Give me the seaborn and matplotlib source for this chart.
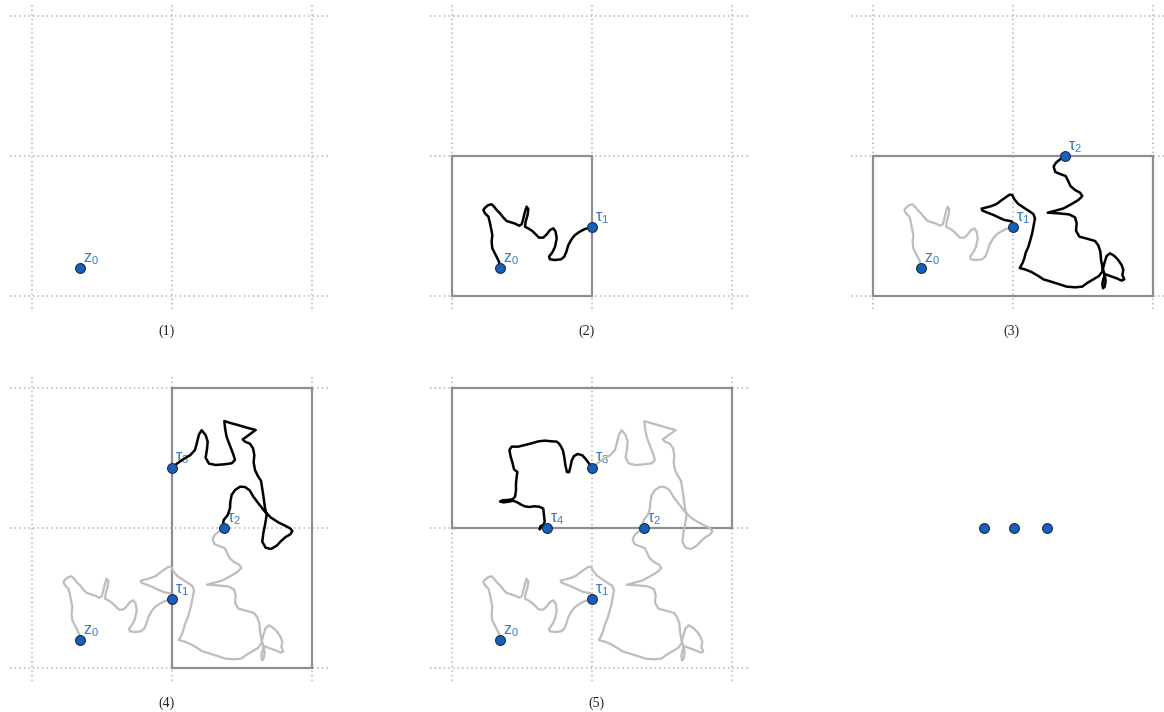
import matplotlib
matplotlib.use("Agg")
import matplotlib.pyplot as plt
from matplotlib.patches import Rectangle
import seaborn as sns

sns.set_theme(style="white")
plt.rcParams["font.family"] = ["Liberation Sans", "DejaVu Sans"]
plt.rcParams["mathtext.fontset"] = "custom"
plt.rcParams["mathtext.rm"] = "Liberation Sans"
plt.rcParams["mathtext.default"] = "regular"

# stopping points, in grid units
z0 = (0.34, 0.20)
tau1 = (1.00, 0.49)
tau2 = (1.37, 1.00)
tau3 = (1.00, 1.43)
tau4 = (0.675, 1.00)
point_labels = ["z_0", "τ_1", "τ_2", "τ_3", "τ_4"]

# path z0 -> tau1
path_a_x = [0.34, 0.336, 0.312, 0.288, 0.283, 0.288, 0.279, 0.269, 0.260, 0.236,
            0.224, 0.236, 0.260, 0.283, 0.302, 0.321, 0.343, 0.367, 0.390, 0.421,
            0.450, 0.479, 0.498, 0.510, 0.521, 0.533, 0.545, 0.540, 0.526, 0.521,
            0.545, 0.574, 0.598, 0.621, 0.652, 0.676, 0.700, 0.724, 0.740, 0.748,
            0.736, 0.717, 0.693, 0.700, 0.736, 0.779, 0.802, 0.817, 0.831, 0.855,
            0.879, 0.914, 0.950, 1.00]
path_a_y = [0.20, 0.245, 0.293, 0.340, 0.388, 0.436, 0.483, 0.531, 0.567, 0.590,
            0.614, 0.631, 0.650, 0.655, 0.636, 0.612, 0.590, 0.560, 0.536, 0.526,
            0.517, 0.502, 0.512, 0.555, 0.602, 0.638, 0.621, 0.579, 0.531, 0.495,
            0.483, 0.464, 0.440, 0.417, 0.417, 0.440, 0.471, 0.483, 0.460, 0.412,
            0.352, 0.312, 0.281, 0.262, 0.257, 0.262, 0.281, 0.317, 0.364, 0.407,
            0.436, 0.460, 0.479, 0.49]

# path tau1 -> tau2
path_b_x = [1.00, 0.998, 0.990, 0.967, 0.938, 0.900, 0.860, 0.819, 0.781, 0.776,
            0.812, 0.848, 0.883, 0.914, 0.948, 0.976, 0.995, 1.010, 1.038, 1.074,
            1.110, 1.145, 1.157, 1.148, 1.138, 1.124, 1.110, 1.091, 1.081, 1.067,
            1.048, 1.086, 1.133, 1.181, 1.217, 1.264, 1.324, 1.383, 1.443, 1.495,
            1.533, 1.574, 1.614, 1.638, 1.652, 1.669, 1.693, 1.724, 1.752, 1.776,
            1.788, 1.781, 1.795, 1.776, 1.741, 1.693, 1.657, 1.645, 1.638, 1.643,
            1.655, 1.662, 1.655, 1.640, 1.629, 1.624, 1.610, 1.586, 1.526, 1.474,
            1.450, 1.455, 1.443, 1.400, 1.329, 1.248, 1.305, 1.362, 1.419, 1.467,
            1.495, 1.479, 1.443, 1.410, 1.393, 1.376, 1.338, 1.302, 1.290, 1.307,
            1.336, 1.37]
path_b_y = [0.49, 0.514, 0.533, 0.538, 0.543, 0.560, 0.579, 0.595, 0.610, 0.624,
            0.633, 0.643, 0.657, 0.681, 0.705, 0.724, 0.721, 0.690, 0.657, 0.633,
            0.610, 0.586, 0.555, 0.507, 0.452, 0.400, 0.352, 0.310, 0.269, 0.233,
            0.200, 0.190, 0.171, 0.143, 0.119, 0.105, 0.086, 0.067, 0.062, 0.067,
            0.095, 0.119, 0.143, 0.174, 0.233, 0.286, 0.305, 0.286, 0.257, 0.221,
            0.186, 0.150, 0.119, 0.110, 0.126, 0.143, 0.157, 0.119, 0.086, 0.055,
            0.067, 0.110, 0.152, 0.198, 0.257, 0.317, 0.360, 0.393, 0.410, 0.424,
            0.467, 0.519, 0.562, 0.583, 0.590, 0.595, 0.610, 0.626, 0.657, 0.686,
            0.714, 0.738, 0.757, 0.786, 0.824, 0.857, 0.871, 0.886, 0.924, 0.952,
            0.976, 1.00]

# path tau2 -> tau3
path_c_x = [1.37, 1.364, 1.369, 1.398, 1.414, 1.417, 1.426, 1.450, 1.486, 1.521,
            1.555, 1.581, 1.617, 1.660, 1.707, 1.760, 1.807, 1.843, 1.860, 1.845,
            1.812, 1.779, 1.748, 1.707, 1.669, 1.645, 1.652, 1.664, 1.676, 1.664,
            1.655, 1.645, 1.636, 1.612, 1.593, 1.583, 1.588, 1.579, 1.557, 1.521,
            1.505, 1.536, 1.574, 1.598, 1.533, 1.469, 1.417, 1.374, 1.379, 1.390,
            1.414, 1.438, 1.450, 1.426, 1.374, 1.312, 1.264, 1.240, 1.250, 1.255,
            1.240, 1.212, 1.193, 1.179, 1.164, 1.131, 1.083, 1.036, 1.00]
path_c_y = [1.00, 1.021, 1.057, 1.093, 1.140, 1.188, 1.236, 1.271, 1.295, 1.293,
            1.269, 1.224, 1.176, 1.121, 1.074, 1.040, 1.017, 0.998, 0.979, 0.955,
            0.936, 0.907, 0.874, 0.850, 0.859, 0.902, 0.962, 1.021, 1.093, 1.145,
            1.212, 1.279, 1.336, 1.374, 1.414, 1.469, 1.521, 1.569, 1.602, 1.617,
            1.633, 1.655, 1.683, 1.700, 1.717, 1.736, 1.750, 1.764, 1.712, 1.652,
            1.588, 1.526, 1.486, 1.462, 1.455, 1.450, 1.460, 1.502, 1.564, 1.617,
            1.664, 1.698, 1.669, 1.612, 1.557, 1.521, 1.493, 1.460, 1.43]

# path tau3 -> tau4
path_d_x = [1.00, 0.981, 0.957, 0.931, 0.898, 0.871, 0.855, 0.845, 0.836, 0.821,
            0.810, 0.802, 0.793, 0.779, 0.767, 0.748, 0.712, 0.664, 0.617, 0.569,
            0.521, 0.474, 0.426, 0.410, 0.419, 0.433, 0.443, 0.467, 0.462, 0.457,
            0.457, 0.450, 0.433, 0.395, 0.362, 0.343, 0.367, 0.405, 0.438, 0.467,
            0.490, 0.519, 0.552, 0.586, 0.624, 0.652, 0.657, 0.662, 0.652, 0.633,
            0.626, 0.636, 0.652, 0.669, 0.675]
path_d_y = [1.43, 1.457, 1.490, 1.519, 1.529, 1.514, 1.481, 1.433, 1.398, 1.400,
            1.448, 1.505, 1.552, 1.581, 1.600, 1.617, 1.619, 1.624, 1.619, 1.605,
            1.593, 1.581, 1.581, 1.557, 1.510, 1.462, 1.419, 1.400, 1.367, 1.319,
            1.267, 1.224, 1.205, 1.200, 1.198, 1.190, 1.183, 1.188, 1.195, 1.183,
            1.169, 1.155, 1.150, 1.155, 1.152, 1.138, 1.093, 1.045, 1.021, 1.014,
            0.990, 1.010, 1.017, 1.007, 1.00]

# boxes (x, y, width, height) per step
boxes = [None, (0, 0, 1, 1), (0, 0, 2, 1), (1, 0, 1, 2), (0, 1, 2, 1)]
captions = ["(1)", "(2)", "(3)", "(4)", "(5)"]

# ellipsis in the last panel
dots_x = [0.79, 1.01, 1.24]
dots_y = [1.00, 1.00, 1.00]

paths = [(path_a_x, path_a_y), (path_b_x, path_b_y),
         (path_c_x, path_c_y), (path_d_x, path_d_y)]
points = [z0, tau1, tau2, tau3, tau4]

W, H = 1164, 712
UNIT = 140
origins_x = [32, 452, 873]
origins_y = [296, 668]
caption_x = [0.96, 0.96, 0.99, 0.96, 1.03]

PT_FACE = "#1660bd"
PT_EDGE = "#1c2c48"
LABEL_C = "#3a7acb"
GRID_C = "#b4b4b4"
BOX_C = "#8e8e8e"
GRAY_C = "#bdbdbd"

fig = plt.figure(figsize=(W / 100, H / 100), dpi=100)

for i in range(6):
    col, row = i % 3, i // 3
    x0, y0 = origins_x[col], origins_y[row]
    ax = fig.add_axes([(x0 - 0.25 * UNIT) / W, 1 - (y0 + 0.3 * UNIT) / H,
                       2.5 * UNIT / W, 2.4 * UNIT / H])
    ax.set_xlim(-0.25, 2.25)
    ax.set_ylim(-0.3, 2.1)
    ax.axis("off")

    if i == 5:
        sns.scatterplot(x=dots_x, y=dots_y, s=50, color=PT_FACE,
                        edgecolor=PT_EDGE, linewidth=0.8, zorder=5, ax=ax)
        continue

    # dotted unit grid
    for g in [0, 1, 2]:
        ax.plot([g, g], [-0.09, 2.09], color=GRID_C, lw=1.1,
                linestyle=(0, (1, 2)), zorder=1)
        ax.plot([-0.16, 2.12], [g, g], color=GRID_C, lw=1.1,
                linestyle=(0, (1, 2)), zorder=1)

    if boxes[i] is not None:
        bx, by, bw, bh = boxes[i]
        ax.add_patch(Rectangle((bx, by), bw, bh, fill=False, ec=BOX_C,
                               lw=1.6, zorder=2))

    # earlier paths in gray, the newest in black
    for k in range(i):
        px, py = paths[k]
        last = k == i - 1
        sns.lineplot(x=px, y=py, sort=False, estimator=None,
                     color="black" if last else GRAY_C,
                     linewidth=1.8 if last else 1.6, zorder=4 if last else 3,
                     ax=ax)

    for k in range(i + 1):
        px, py = points[k]
        ax.annotate(f"${point_labels[k]}$", (px, py), xytext=(2.5, 1.0),
                    textcoords="offset points", ha="left", va="bottom",
                    color=LABEL_C, fontsize=11.5, zorder=2.5)
    sns.scatterplot(x=[p[0] for p in points[:i + 1]],
                    y=[p[1] for p in points[:i + 1]],
                    s=50, color=PT_FACE, edgecolor=PT_EDGE, linewidth=0.8,
                    zorder=6, ax=ax)

    ax.text(caption_x[i], -0.25, captions[i], ha="center", va="center",
            fontsize=10, family=["Liberation Serif", "DejaVu Serif"],
            color="#222222")

fig.savefig("out.png", dpi=100)
